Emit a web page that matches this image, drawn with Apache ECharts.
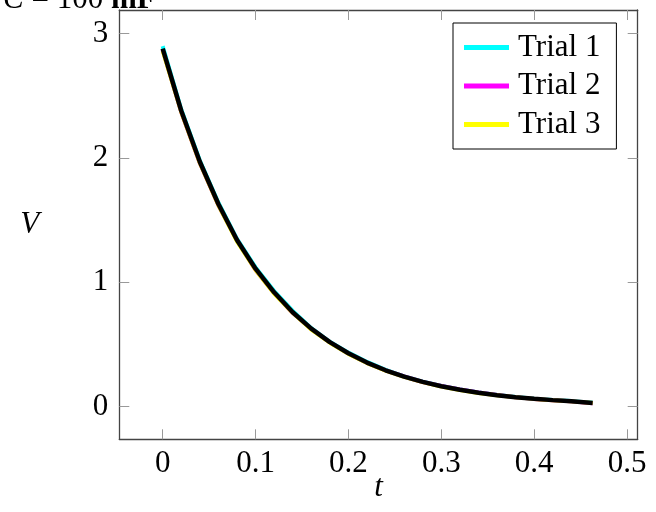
<!DOCTYPE html>
<html>
<head>
  <meta charset="utf-8">
  <script src="https://cdn.jsdelivr.net/npm/echarts@6/dist/echarts.min.js"></script>
</head>
<body style="margin:0">
    <div id="main" style="width:656px;height:512px;"></div>

<script type="text/javascript">
// time samples (s)
var t = [0, 0.02, 0.04, 0.06, 0.08, 0.10, 0.12, 0.14, 0.16, 0.18, 0.20, 0.22,
         0.24, 0.26, 0.28, 0.30, 0.32, 0.34, 0.36, 0.38, 0.40, 0.42, 0.44, 0.463];

var trial1 = [2.90, 2.39, 1.98, 1.64, 1.35, 1.12, 0.93, 0.77, 0.632, 0.522, 0.435, 0.360,
              0.296, 0.244, 0.202, 0.167, 0.138, 0.114, 0.094, 0.078, 0.065, 0.054, 0.045, 0.031];
var trial2 = [2.87, 2.37, 1.96, 1.62, 1.34, 1.10, 0.915, 0.755, 0.625, 0.518, 0.428, 0.353,
              0.292, 0.243, 0.199, 0.166, 0.138, 0.114, 0.094, 0.076, 0.063, 0.052, 0.043, 0.028];
var trial3 = [2.86, 2.37, 1.96, 1.62, 1.33, 1.10, 0.91, 0.755, 0.62, 0.515, 0.425, 0.351,
              0.290, 0.240, 0.198, 0.163, 0.135, 0.111, 0.092, 0.076, 0.063, 0.052, 0.043, 0.029];
var meanV  = [2.88, 2.38, 1.97, 1.63, 1.34, 1.11, 0.92, 0.76, 0.628, 0.519, 0.430, 0.355,
              0.293, 0.242, 0.200, 0.165, 0.137, 0.113, 0.093, 0.077, 0.064, 0.053, 0.044, 0.030];

var xTicks = [0, 0.1, 0.2, 0.3, 0.4, 0.5];
var yTicks = [0, 1, 2, 3];

var font = '"Liberation Serif", "DejaVu Serif", serif';
var fs = 31;

function pairs(v) {
    return t.map(function (x, i) { return [x, v[i]]; });
}

var xr = {min: -0.0467, max: 0.5115};
var yr = {min: -0.262, max: 3.19};

function axisBase(pos, labels) {
    return {
        type: 'value',
        position: pos,
        splitLine: {show: false},
        axisLine: {show: true, onZero: false, lineStyle: {color: '#444', width: 1.3}},
        axisTick: {show: true, inside: true, length: 10, customValues: null,
                   lineStyle: {color: '#999', width: 1}},
        axisLabel: {show: labels, color: '#000', fontFamily: font, fontSize: fs}
    };
}

var xb = axisBase('bottom', true), xt = axisBase('top', false);
[xb, xt].forEach(function (a) {
    a.min = xr.min; a.max = xr.max;
    a.axisTick.customValues = xTicks;
    a.axisLabel.customValues = xTicks;
});
xb.axisLabel.margin = 9;
xb.name = 't';
xb.nameLocation = 'middle';
xb.nameGap = 33;
xb.nameMoveOverlap = false;
xb.nameTextStyle = {fontFamily: font, fontSize: fs, fontStyle: 'italic', color: '#000'};

var yl = axisBase('left', true), yrt = axisBase('right', false);
[yl, yrt].forEach(function (a) {
    a.min = yr.min; a.max = yr.max;
    a.axisTick.customValues = yTicks;
    a.axisLabel.customValues = yTicks;
});
yl.axisLabel.margin = 11;
yl.name = 'V';
yl.nameLocation = 'middle';
yl.nameRotate = 0;
yl.nameGap = 80;
yl.nameMoveOverlap = false;
yl.nameTextStyle = {fontFamily: font, fontSize: fs, fontStyle: 'italic', color: '#000'};

function trialSeries(name, data, color) {
    return {
        name: name, type: 'line', data: pairs(data),
        showSymbol: false, symbol: 'none',
        lineStyle: {color: color, width: 4},
        itemStyle: {color: color}
    };
}

var myChart = echarts.init(document.getElementById('main'));
myChart.setOption({
    animation: false,
    backgroundColor: '#fff',
    grid: {left: 119.3, right: 18.3, top: 10, bottom: 72.7, outerBoundsMode: 'none', containLabel: false},
    graphic: [{
        type: 'text', left: 3, top: -16,
        style: {
            text: '{i|C} = 100 {b|mF}',
            font: fs + 'px ' + font,
            fill: '#000',
            rich: {
                i: {fontStyle: 'italic', fontFamily: font, fontSize: fs},
                b: {fontWeight: 'bold', fontFamily: font, fontSize: fs}
            }
        }
    }],
    legend: {
        data: ['Trial 1', 'Trial 2', 'Trial 3'],
        orient: 'vertical',
        left: 453, top: 23,
        padding: [9, 16, 9, 11],
        itemGap: 7.5,
        itemWidth: 45, itemHeight: 5,
        icon: 'rect',
        borderColor: '#000', borderWidth: 1,
        backgroundColor: '#fff',
        textStyle: {fontFamily: font, fontSize: fs, lineHeight: 30, color: '#000',
                    padding: [0, 0, 0, 4]}
    },
    xAxis: [xb, xt],
    yAxis: [yl, yrt],
    series: [
        trialSeries('Trial 1', trial1, '#00ffff'),
        trialSeries('Trial 2', trial2, '#ff00ff'),
        trialSeries('Trial 3', trial3, '#ffff00'),
        {
            name: 'mean', type: 'line', data: pairs(meanV),
            showSymbol: false, symbol: 'none',
            lineStyle: {color: '#000', width: 4.5}, z: 5
        }
    ]
});
</script>
</body>
</html>
